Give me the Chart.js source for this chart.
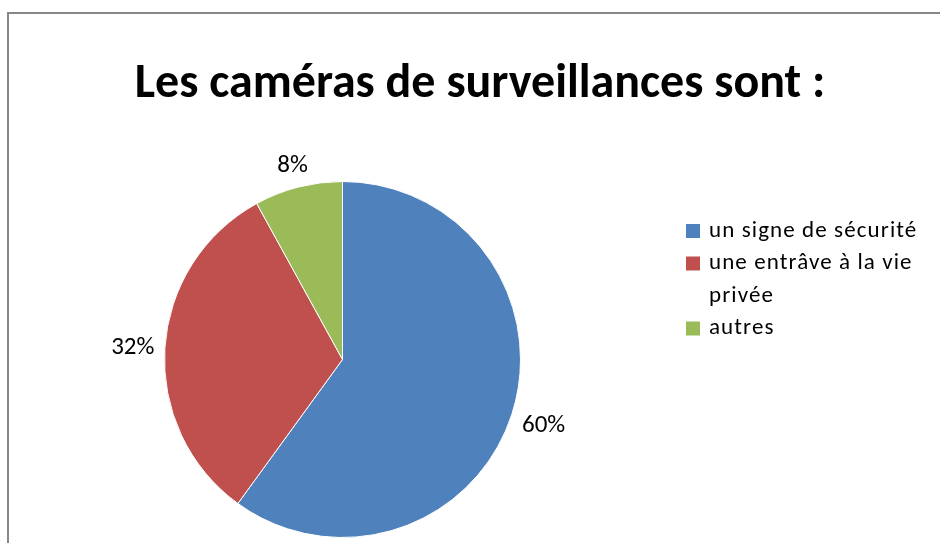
<!DOCTYPE html>
<html>
<head>
<meta charset="utf-8">
<script src="https://cdn.jsdelivr.net/npm/chart.js@4"></script>
<style>
html,body{margin:0;padding:0;background:#fff;}
#wrap{position:relative;width:940px;height:543px;}
</style>
</head>
<body>
<div id="wrap"><canvas id="c" width="940" height="543"></canvas></div>
<script>
const titleText = "Les caméras de surveillances sont :";
const categories = ["un signe de sécurité", "une entrâve à la vie privée", "autres"];
const legendLines = [["un signe de sécurité"], ["une entrâve à la vie", "privée"], ["autres"]];
const values = [60, 32, 8];
const colors = ["#4F81BD", "#C0504D", "#9BBB59"];
const FONT = "Carlito, Calibri, Lato, 'Open Sans', sans-serif";

const decor = {
  id: 'decor',
  beforeDraw(chart) {
    const ctx = chart.ctx;
    ctx.save();
    ctx.fillStyle = '#fff';
    ctx.fillRect(0, 0, chart.width, chart.height);
    ctx.strokeStyle = '#878787';
    ctx.lineWidth = 2;
    ctx.beginPath();
    ctx.moveTo(8, chart.height);
    ctx.lineTo(8, 13);
    ctx.lineTo(chart.width, 13);
    ctx.stroke();
    ctx.restore();
  },
  afterDraw(chart) {
    const ctx = chart.ctx;
    ctx.save();
    // title
    ctx.fillStyle = '#000';
    ctx.font = "bold 48px " + FONT;
    ctx.textAlign = 'center';
    ctx.textBaseline = 'alphabetic';
    ctx.fillText(titleText, 480, 97);
    // data labels outside end
    const meta = chart.getDatasetMeta(0);
    const total = values.reduce((a, b) => a + b, 0);
    ctx.font = "25px " + FONT;
    ctx.textAlign = 'center';
    ctx.textBaseline = 'middle';
    meta.data.forEach((arc, i) => {
      const p = arc.getProps(['x', 'y', 'startAngle', 'endAngle', 'outerRadius'], true);
      const mid = (p.startAngle + p.endAngle) / 2;
      const txt = Math.round(values[i] / total * 100) + '%';
      const w = ctx.measureText(txt).width;
      const h = 19;
      const cx = Math.cos(mid), sy = Math.sin(mid);
      const d = p.outerRadius + 10 + Math.abs(cx) * w / 2 + Math.abs(sy) * h / 2;
      ctx.fillText(txt, p.x + cx * d, p.y + sy * d + 1);
    });
    // legend
    ctx.font = "23px " + FONT;
    if ('letterSpacing' in ctx) ctx.letterSpacing = '1.1px';
    ctx.textAlign = 'left';
    ctx.textBaseline = 'middle';
    let y = 231;
    legendLines.forEach((lines, i) => {
      ctx.fillStyle = colors[i];
      ctx.fillRect(686, y - 7, 14, 14);
      ctx.fillStyle = '#000';
      lines.forEach((ln, j) => {
        ctx.fillText(ln, 709, y);
        y += 32.5;
      });
    });
    ctx.restore();
  }
};

new Chart(document.getElementById('c'), {
  type: 'pie',
  data: {
    labels: categories,
    datasets: [{
      data: values,
      backgroundColor: colors,
      borderColor: '#ffffff',
      borderWidth: 1
    }]
  },
  options: {
    responsive: false,
    animation: false,
    layout: { padding: { left: 164, right: 419, top: 181, bottom: 5 } },
    plugins: {
      legend: { display: false },
      title: { display: false },
      tooltip: { enabled: false }
    }
  },
  plugins: [decor]
});
</script>
</body>
</html>
